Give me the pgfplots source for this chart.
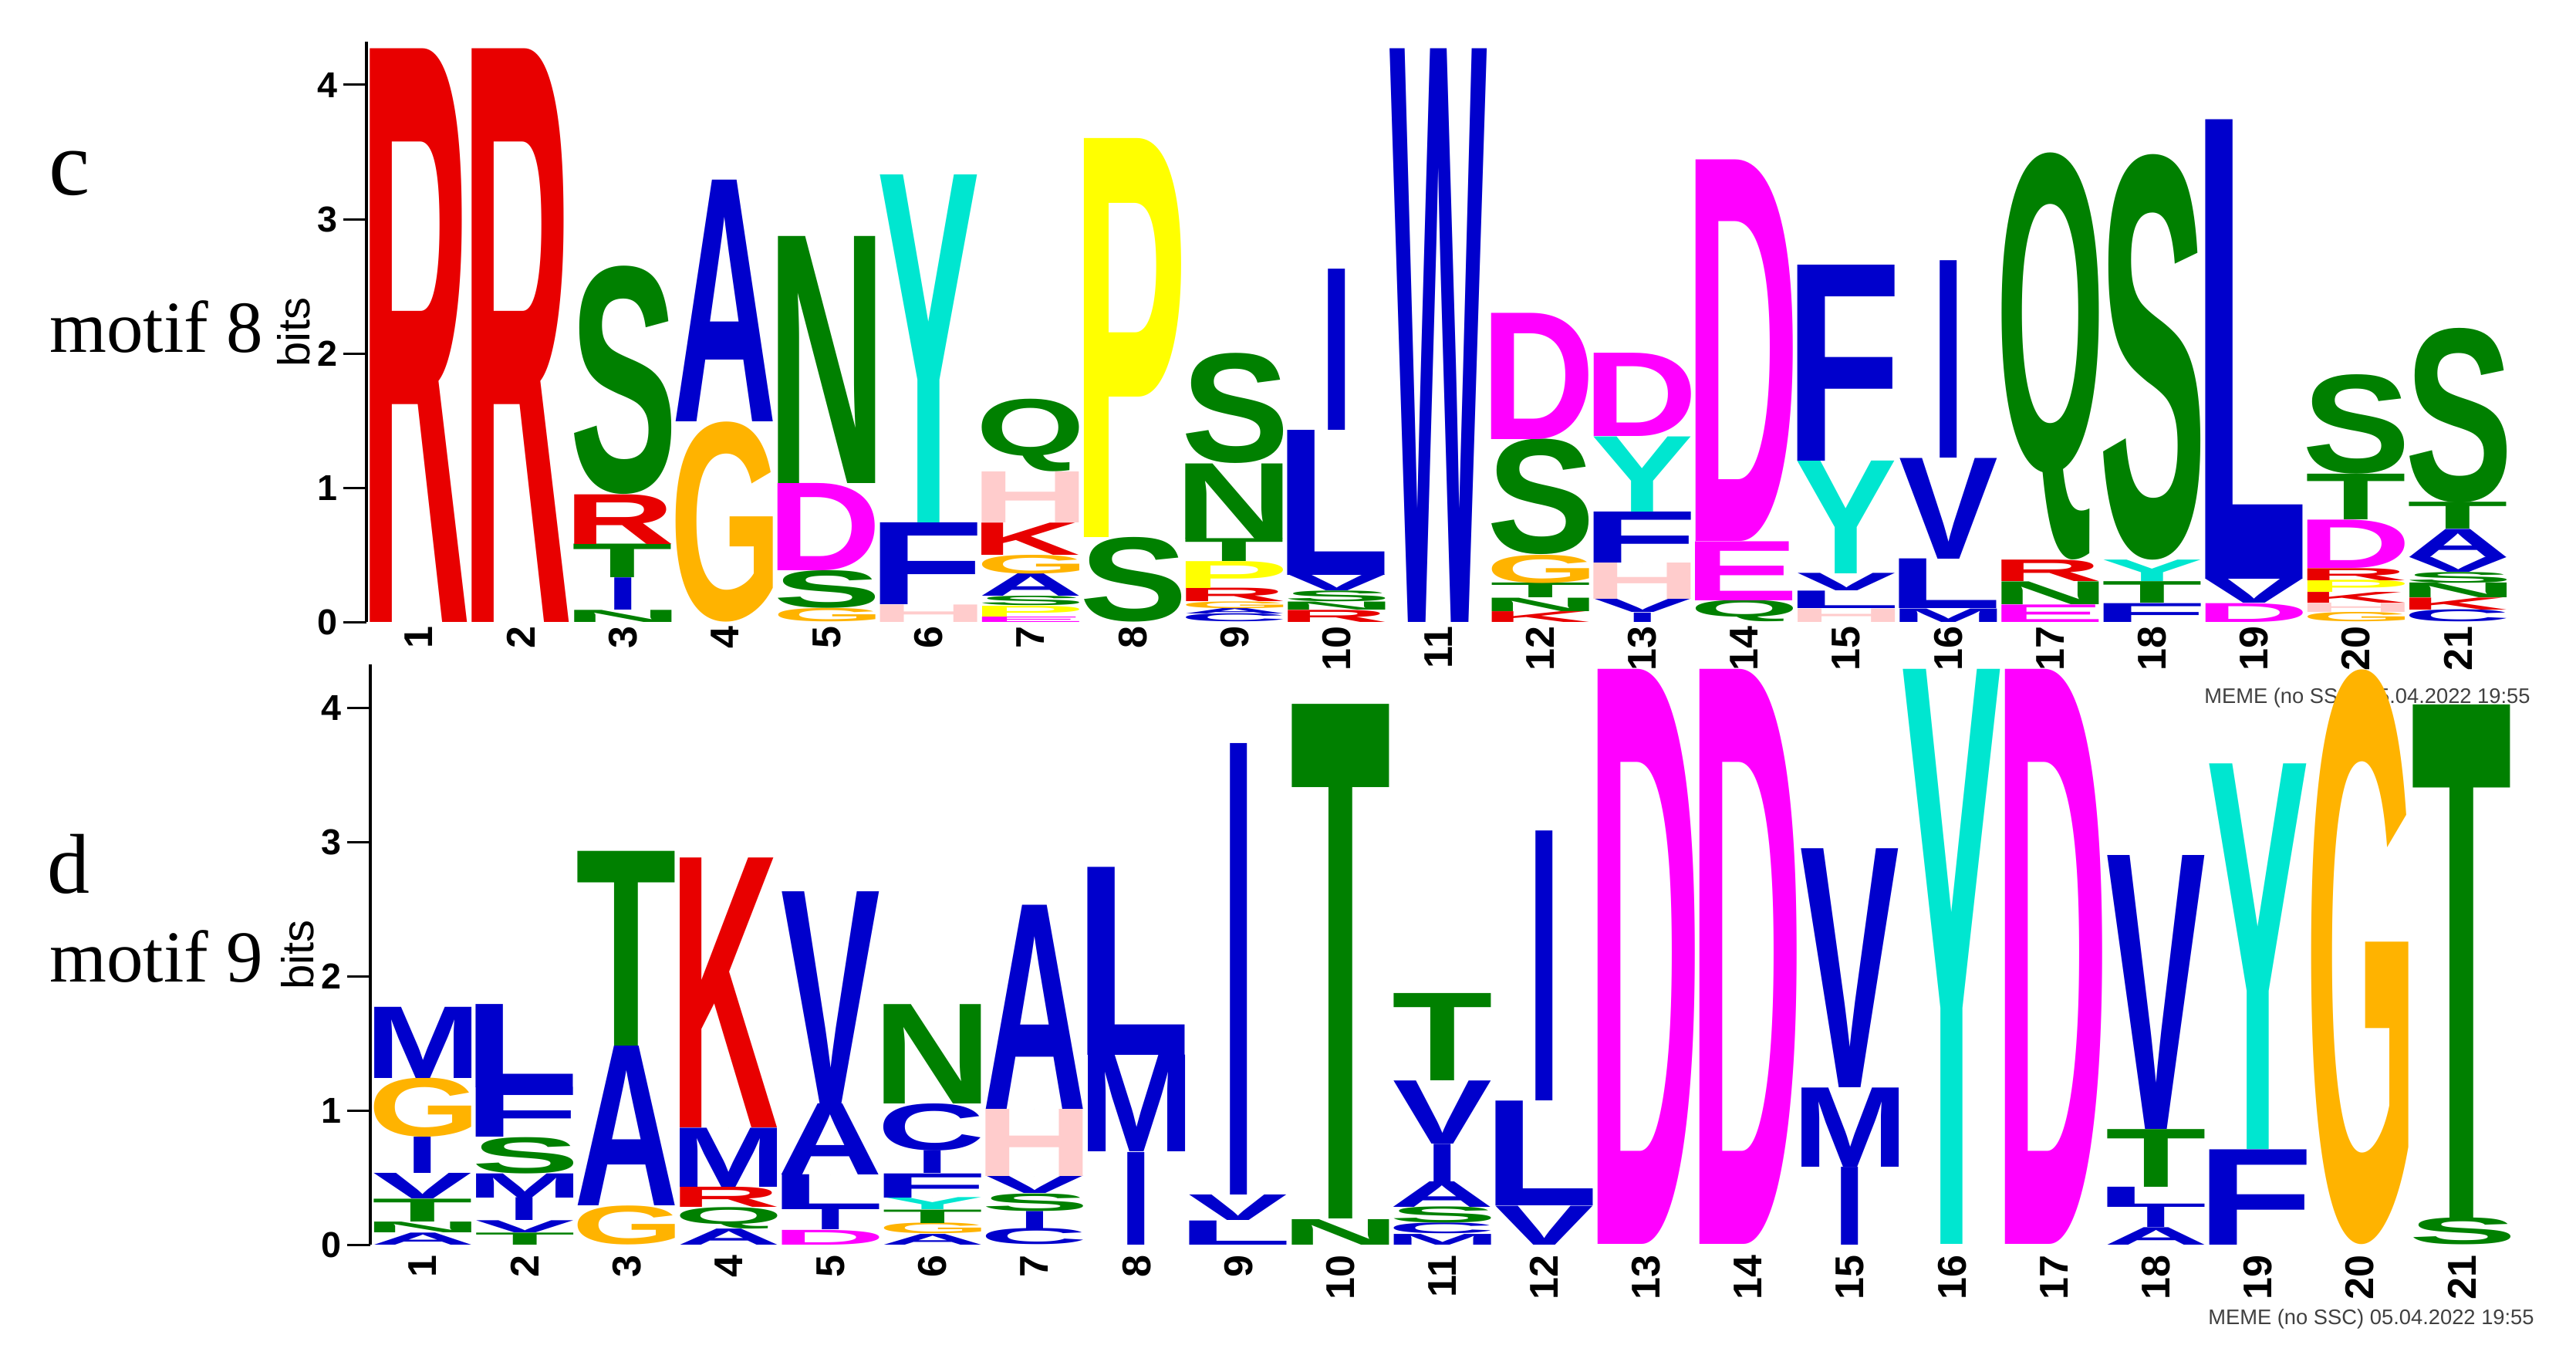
\documentclass[border=0pt]{standalone}
\usepackage{pgfplots}
\pgfplotsset{compat=1.18}
\usepackage{pgfplotstable}
\usepackage{graphicx}
\usepackage{fontspec}
\setmainfont{Liberation Sans}
\newfontfamily\timesf{Liberation Serif}

% MEME amino-acid colours
\definecolor{lcA}{HTML}{0000CC}\definecolor{lcC}{HTML}{0000CC}\definecolor{lcF}{HTML}{0000CC}
\definecolor{lcI}{HTML}{0000CC}\definecolor{lcL}{HTML}{0000CC}\definecolor{lcV}{HTML}{0000CC}
\definecolor{lcW}{HTML}{0000CC}\definecolor{lcM}{HTML}{0000CC}
\definecolor{lcN}{HTML}{008000}\definecolor{lcQ}{HTML}{008000}\definecolor{lcS}{HTML}{008000}
\definecolor{lcT}{HTML}{008000}
\definecolor{lcD}{HTML}{FF00FF}\definecolor{lcE}{HTML}{FF00FF}
\definecolor{lcK}{HTML}{E80000}\definecolor{lcR}{HTML}{E80000}
\definecolor{lcH}{HTML}{FFCCCC}
\definecolor{lcG}{HTML}{FFB300}
\definecolor{lcP}{HTML}{FFFF00}
\definecolor{lcY}{HTML}{00E6D0}

\newdimen\logocw \logocw=18.9pt
\newdimen\logoiw \logoiw=3.3pt
\newdimen\logoht
\newcommand\logoletter{\edef\logotmp{\pgfplotspointmeta}\expandafter\logoletterB\logotmp\relax}
\def\logoletterB#1#2\relax{%
  \begingroup
  \pgfkeys{/pgf/fpu=true,/pgf/fpu/output format=fixed}%
  \pgfmathparse{\logoh*26.1}%
  \global\logoht=\pgfmathresult pt\relax
  \endgroup
  \setbox0=\hbox{\color{lc#1}\bfseries\kern-\XeTeXglyphbounds1 \XeTeXcharglyph`#1\relax #1\kern-\XeTeXglyphbounds3 \XeTeXcharglyph`#1\relax}%
  \if I#1\def\logotw{\logoiw}\else\def\logotw{\logocw}\fi
  \resizebox*{\logotw}{\logoht}{\box0}}

% columns: position, bottom of letter (bits), letter height (bits), letter
\pgfplotstableread{
x y0 h L
1 0 4.27 R
2 0 4.27 R
3 0 0.09 N
3 0.09 0.24 I
3 0.33 0.25 T
3 0.58 0.37 R
3 0.95 1.70 S
4 0 1.49 G
4 1.49 1.80 A
5 0 0.10 G
5 0.10 0.28 S
5 0.38 0.65 D
5 1.03 1.84 N
6 0 0.13 H
6 0.13 0.61 F
6 0.74 2.59 Y
7 0 0.04 E
7 0.04 0.08 P
7 0.12 0.07 S
7 0.19 0.17 A
7 0.36 0.14 G
7 0.50 0.24 K
7 0.74 0.38 H
7 1.12 0.54 Q
8 0 0.63 S
8 0.63 2.97 P
9 0 0.06 C
9 0.06 0.04 A
9 0.10 0.05 G
9 0.15 0.10 R
9 0.25 0.20 P
9 0.45 0.17 T
9 0.62 0.56 N
9 1.18 0.82 S
10 0 0.09 R
10 0.09 0.06 N
10 0.15 0.08 S
10 0.23 0.12 V
10 0.35 1.08 L
10 1.43 1.20 I
11 0 4.27 W
12 0 0.08 K
12 0.08 0.10 N
12 0.18 0.11 T
12 0.29 0.21 G
12 0.50 0.86 S
12 1.36 0.94 D
13 0 0.07 I
13 0.07 0.10 V
13 0.17 0.27 H
13 0.44 0.38 F
13 0.82 0.56 Y
13 1.38 0.62 D
14 0 0.16 Q
14 0.16 0.44 E
14 0.60 2.84 D
15 0 0.10 H
15 0.10 0.13 L
15 0.23 0.13 V
15 0.36 0.84 Y
15 1.20 1.46 F
16 0 0.10 M
16 0.10 0.37 L
16 0.47 0.75 V
16 1.22 1.47 I
17 0 0.13 E
17 0.13 0.17 N
17 0.30 0.16 R
17 0.46 3.03 Q
18 0 0.14 F
18 0.14 0.16 T
18 0.30 0.16 Y
18 0.46 3.02 S
19 0 0.14 D
19 0.14 0.18 V
19 0.32 3.42 L
20 0 0.07 G
20 0.07 0.07 H
20 0.14 0.08 K
20 0.22 0.09 P
20 0.31 0.09 R
20 0.40 0.36 D
20 0.76 0.34 T
20 1.10 0.74 S
21 0 0.09 C
21 0.09 0.09 K
21 0.18 0.11 N
21 0.29 0.08 S
21 0.37 0.11 V
21 0.48 0.21 A
21 0.69 0.20 T
21 0.89 1.30 S
}\motifeight

\pgfplotstableread{
x y0 h L
1 0 0.09 A
1 0.09 0.08 N
1 0.17 0.17 T
1 0.34 0.19 V
1 0.53 0.27 I
1 0.80 0.44 G
1 1.24 0.53 M
2 0 0.09 T
2 0.09 0.09 V
2 0.18 0.17 I
2 0.35 0.18 M
2 0.53 0.27 S
2 0.80 0.37 F
2 1.17 0.62 L
3 0 0.29 G
3 0.29 1.19 A
3 1.48 1.45 T
4 0 0.12 A
4 0.12 0.16 Q
4 0.28 0.15 R
4 0.43 0.44 M
4 0.87 2.01 K
5 0 0.11 D
5 0.11 0.15 I
5 0.26 0.26 L
5 0.52 0.53 A
5 1.05 1.58 V
6 0 0.08 A
6 0.08 0.08 G
6 0.16 0.10 T
6 0.26 0.09 Y
6 0.35 0.18 F
6 0.53 0.17 I
6 0.70 0.35 C
6 1.05 0.74 N
7 0 0.12 C
7 0.12 0.13 I
7 0.25 0.13 S
7 0.38 0.13 V
7 0.51 0.50 H
7 1.01 1.52 A
8 0 0.69 I
8 0.69 0.72 M
8 1.41 1.40 L
9 0 0.18 L
9 0.18 0.19 V
9 0.37 3.36 I
10 0 0.19 N
10 0.19 3.83 T
11 0 0.08 M
11 0.08 0.08 C
11 0.16 0.12 S
11 0.28 0.19 A
11 0.47 0.28 I
11 0.75 0.47 V
11 1.22 0.65 T
12 0 0.29 V
12 0.29 0.78 L
12 1.07 2.01 I
13 0 4.28 D
14 0 4.28 D
15 0 0.58 I
15 0.58 0.59 M
15 1.17 1.78 V
16 0 4.28 Y
17 0 4.28 D
18 0 0.13 A
18 0.13 0.15 I
18 0.28 0.15 L
18 0.43 0.43 T
18 0.86 2.04 V
19 0 0.71 F
19 0.71 2.87 Y
20 0 4.28 G
21 0 0.20 S
21 0.20 3.82 T
}\motifnine

\pgfplotsset{
  logoaxis/.style={
    anchor=south west,
    x=19.8225pt, y=26.1pt,
    xmin=0.485, xmax=21.52, ymin=0, ymax=4.32,
    axis lines*=left,
    axis line style={-, line width=0.6pt},
    x axis line style={draw=none},
    xtick={1,...,21}, ytick={0,1,2,3,4},
    xtick style={draw=none},
    ytick style={line width=0.45pt, black},
    tick align=outside,
    major tick length=4.5pt,
    /pgf/number format/assume math mode=true,
    xticklabel style={rotate=90, anchor=east, inner sep=0.6pt,
      font=\fontsize{7.8}{8}\selectfont\bfseries},
    yticklabel style={inner sep=1pt, font=\fontsize{7}{8}\selectfont\bfseries},
    ylabel={bits},
    ylabel style={at={(axis description cs:-0.0338,0.5)}, anchor=center,
      font=\fontsize{8.7}{9}\selectfont},
    clip=false,
  },
  logoplot/.style={
    only marks, mark=*, mark size=0pt, mark options={draw=none, fill=none},
    point meta=explicit symbolic,
    visualization depends on={\thisrow{h}\as\logoh},
    nodes near coords={\logoletter},
    every node near coord/.append style={anchor=south, inner sep=0pt, outer sep=0pt},
  },
}

\begin{document}
\begin{tikzpicture}
\begin{axis}[logoaxis, at={(71.25pt,142.35pt)}, xticklabel shift=-4.5pt]
\addplot[logoplot] table[x=x, y=y0, meta=L] {\motifeight};
\end{axis}
\node[anchor=east, inner sep=0pt, text=black!75] at (492.15pt,127.65pt)
  {\fontsize{4.1}{5}\selectfont MEME (no SSC) 05.04.2022 19:55};
\begin{axis}[logoaxis, at={(72pt,21.3pt)}, xticklabel shift=-3.3pt]
\addplot[logoplot] table[x=x, y=y0, meta=L] {\motifnine};
\end{axis}
\node[anchor=east, inner sep=0pt, text=black!75] at (492.9pt,6.9pt)
  {\fontsize{4.1}{5}\selectfont MEME (no SSC) 05.04.2022 19:55};
\node[anchor=base west, inner sep=0pt] at (9.3pt,225.3pt) {\timesf\fontsize{18}{20}\selectfont c};
\node[anchor=base west, inner sep=0pt] at (9.45pt,194.7pt) {\timesf\fontsize{14.25}{16}\selectfont motif 8};
\node[anchor=base west, inner sep=0pt] at (9pt,89.7pt) {\timesf\fontsize{16.5}{18}\selectfont d};
\node[anchor=base west, inner sep=0pt] at (9.45pt,72.45pt) {\timesf\fontsize{14.25}{16}\selectfont motif 9};
\pgfresetboundingbox
\path[use as bounding box] (0,0) rectangle (500.85pt,263.25pt);
\end{tikzpicture}
\end{document}
